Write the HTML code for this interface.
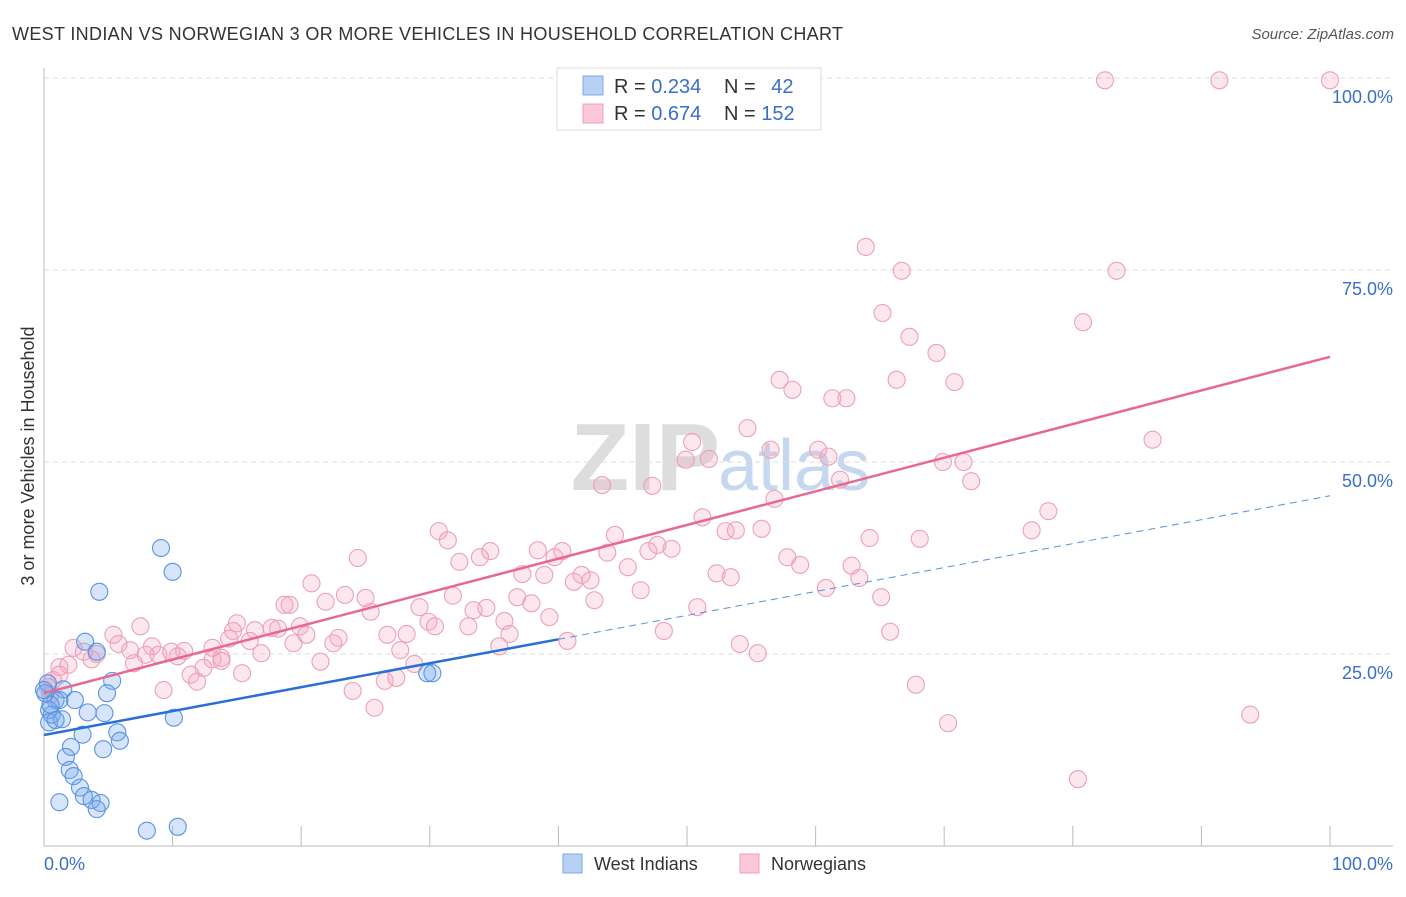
<!DOCTYPE html>
<html><head><meta charset="utf-8"><style>
body{margin:0;background:#fff;font-family:"Liberation Sans",sans-serif}
svg text{font-family:"Liberation Sans",sans-serif}
</style></head><body>
<svg id="c" width="1406" height="892">
<text x="12" y="40" font-size="18" fill="#333" textLength="831">WEST INDIAN VS NORWEGIAN 3 OR MORE VEHICLES IN HOUSEHOLD CORRELATION CHART</text>
<text x="1394" y="39" font-size="15" fill="#555" text-anchor="end" font-style="italic">Source: ZipAtlas.com</text>
<text x="720" y="490" font-size="96" font-weight="bold" fill="#ddd" text-anchor="end">ZIP</text>
<text x="718" y="490" font-size="72" fill="#c5d8ef">atlas</text>
<text transform="translate(34,456) rotate(-90)" font-size="18" fill="#333" text-anchor="middle">3 or more Vehicles in Household</text>
<g id="grid"></g><g id="pts"></g><g id="lines"></g>
<rect x="557" y="68" width="264" height="62" fill="#fff" stroke="#ddd"/>
<rect x="583" y="76" width="20" height="19" fill="#b7d1f5" stroke="#7fa9e6"/>
<rect x="583" y="104" width="20" height="19" fill="#fcc8d8" stroke="#eda0b8"/>
<text x="614" y="93" font-size="20" fill="#333">R = <tspan fill="#3a6fc8">0.234</tspan></text>
<text x="724" y="93" font-size="20" fill="#333">N = <tspan fill="#3a6fc8" dx="10">42</tspan></text>
<text x="614" y="120" font-size="20" fill="#333">R = <tspan fill="#3a6fc8">0.674</tspan></text>
<text x="724" y="120" font-size="20" fill="#333">N = <tspan fill="#3a6fc8">152</tspan></text>
<text x="44" y="870" font-size="18" fill="#3a6fc8">0.0%</text>
<text x="1393" y="870" font-size="18" fill="#3a6fc8" text-anchor="end">100.0%</text>
<rect x="563" y="854" width="19" height="19" fill="#b7d1f5" stroke="#7fa9e6"/>
<text x="594" y="870" font-size="18" fill="#333">West Indians</text>
<rect x="740" y="854" width="19" height="19" fill="#fcc8d8" stroke="#eda0b8"/>
<text x="771" y="870" font-size="18" fill="#333">Norwegians</text>
</svg>
<script>
const yTicks=[25,50,75,100];
const yTickLabels=["25.0%","50.0%","75.0%","100.0%"];
const xTicks=[10,20,30,40,50,60,70,80,90,100];
const blueX=[9.1,10.0,4.3,3.2,4.1,5.3,1.5,4.9,2.4,0.9,1.2,0.1,0.4,0.6,0.4,3.4,4.7,1.4,0.9,5.7,3.0,5.9,10.1,2.1,4.6,1.7,2.0,2.3,2.8,3.1,1.2,3.7,4.4,4.1,8.0,10.4,29.8,30.2,0.3,0,0.5];
const blueY=[38.8,35.7,33.1,26.6,25.3,21.5,20.4,19.9,19.0,19.0,19.0,19.9,17.7,17.1,16.1,17.4,17.3,16.5,16.4,14.8,14.5,13.7,16.7,12.9,12.6,11.6,9.9,9.1,7.6,6.5,5.7,6.0,5.6,4.8,2.0,2.5,22.5,22.5,21.2,20.3,18.4];
const pinkX=[82.5,91.4,100,63.9,66.7,83.4,65.2,80.8,67.3,69.4,57.2,66.3,70.8,58.2,61.3,62.4,54.7,50.4,56.5,86.2,49.9,51.7,60.2,61.0,69.9,71.5,61.9,72.1,43.4,47.3,56.8,78.1,51.2,53.0,53.8,55.8,76.8,30.7,31.4,44.4,64.2,68.1,24.4,34.7,38.4,40.3,43.8,47.0,48.8,47.7,39.7,32.3,33.9,57.8,58.8,62.8,45.4,37.2,38.9,41.8,42.5,41.2,52.3,53.4,63.4,20.8,46.4,31.8,36.8,23.4,25.0,42.8,65.1,37.9,18.7,19.1,21.9,29.2,33.4,34.4,25.4,50.8,60.8,39.3,35.8,29.9,30.4,33.0,15.0,7.5,19.9,20.4,17.7,18.2,16.4,14.7,14.4,5.4,13.1,16.0,22.9,26.7,28.2,36.2,22.5,5.8,8.4,9.9,10.9,16.9,19.4,40.7,54.1,55.5,65.8,48.2,2.3,3.1,4.1,6.7,7.9,8.9,10.4,13.1,13.8,27.7,35.4,3.7,13.8,21.5,28.8,7.0,1.9,1.2,12.4,11.4,11.9,15.4,26.5,27.4,24.0,9.3,25.7,67.8,70.3,93.8,80.4,0.7,0.3,0.5,1.2];
const pinkY=[99.7,99.7,99.7,78.0,74.9,74.9,69.4,68.2,66.3,64.2,60.7,60.7,60.4,59.4,58.3,58.3,54.4,52.6,51.6,52.9,50.3,50.4,51.6,50.7,50.0,50.0,47.7,47.5,47.0,46.9,45.2,43.6,42.8,41.0,41.1,41.3,41.1,41.0,39.8,40.5,40.1,40.0,37.5,38.4,38.5,38.4,38.2,38.4,38.7,39.2,37.6,37.0,37.6,37.6,36.6,36.5,36.3,35.4,35.3,35.3,34.6,34.4,35.5,35.0,34.9,34.2,33.3,32.6,32.4,32.7,32.3,32.0,32.4,31.6,31.4,31.4,31.8,31.1,30.7,31.0,30.5,31.1,33.6,29.8,29.3,29.2,28.6,28.6,29.0,28.6,28.6,27.5,28.4,28.3,28.1,28.0,27.0,27.5,25.8,26.7,27.1,27.5,27.6,27.6,26.4,26.3,26.0,25.3,25.4,25.1,26.4,26.7,26.3,25.1,27.9,28.0,25.8,25.3,25.0,25.5,24.9,24.9,24.7,24.3,24.5,25.5,26.0,24.3,24.1,24.0,23.7,23.8,23.6,23.3,23.2,22.3,21.4,22.5,21.5,21.9,20.2,20.3,18.0,21.0,16.0,17.1,8.7,21.6,20.7,19.7,22.3];
const blueTrend=[14.45,45.6];
const pinkTrend=[19.9,63.7];
const blueSolidEnd=40;
const NS="http://www.w3.org/2000/svg";
const X=v=>44+v*12.86, Y=v=>846-v*7.68;
function mk(p,t,a){const e=document.createElementNS(NS,t);for(const k in a)e.setAttribute(k,a[k]);p.appendChild(e);return e;}
const g=document.getElementById('grid'),P=document.getElementById('pts'),L=document.getElementById('lines');
yTicks.forEach((t,i)=>{
 const l=mk(g,'line',{x1:44,x2:1393,y1:Y(t),y2:Y(t),stroke:'#ddd','stroke-dasharray':'5,4'});
 
 
 const tx=mk(g,'text',{x:1393,y:Y(t)+25,'font-size':18,fill:'#3a6fc8','text-anchor':'end'});tx.textContent=yTickLabels[i];
 
 
});
const ax=mk(g,'line',{x1:44,x2:44,y1:68,y2:846,stroke:'#bbb'});


const bx=mk(g,'line',{x1:44,x2:1393,y1:846,y2:846,stroke:'#bbb'});


xTicks.forEach(t=>{const l=mk(g,'line',{x1:X(t),x2:X(t),y1:826,y2:846,stroke:'#bbb'});
 
 });
function pts(xs,ys,fill,stroke,name){xs.forEach((x,i)=>{const c=mk(P,'circle',{cx:X(x),cy:Y(ys[i]),r:8.5,fill:fill,stroke:stroke,'stroke-width':1.1});
 
 });}
pts(pinkX,pinkY,'rgba(246,170,195,0.28)','#eda0b8','norwegian-point');
pts(blueX,blueY,'rgba(120,170,235,0.3)','#5b93e0','west-indian-point');
const bt=x=>blueTrend[0]+(blueTrend[1]-blueTrend[0])*x/100, pt=x=>pinkTrend[0]+(pinkTrend[1]-pinkTrend[0])*x/100;
const l1=mk(L,'line',{x1:X(0),y1:Y(bt(0)),x2:X(blueSolidEnd),y2:Y(bt(blueSolidEnd)),stroke:'#2a6fd6','stroke-width':2.5});


const l2=mk(L,'line',{x1:X(blueSolidEnd),y1:Y(bt(blueSolidEnd)),x2:X(100),y2:Y(bt(100)),stroke:'#5b8fdc','stroke-width':1,'stroke-dasharray':'7,5'});


const l3=mk(L,'line',{x1:X(0),y1:Y(pt(0)),x2:X(100),y2:Y(pt(100)),stroke:'#e8698f','stroke-width':2.5});


</script>
</body></html>
